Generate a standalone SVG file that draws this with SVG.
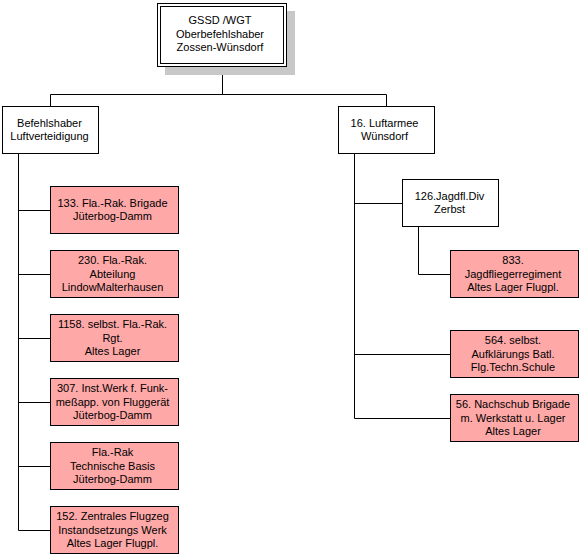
<svg xmlns="http://www.w3.org/2000/svg" width="579" height="555" viewBox="0 0 579 555">
<style>
.box{fill:#fff;stroke:#000;stroke-width:1}
.pink{fill:#FFA8A8;stroke:#000;stroke-width:1}
.ln{stroke:#000;stroke-width:1;fill:none}
text{font-family:"Liberation Sans",Arial,sans-serif;font-size:11px;fill:#000;text-anchor:middle}
</style>
<rect width="579" height="555" fill="#fff"/>
<g id="connectors" class="ln">
<path d="M222.5 67V94.5M50.5 94.5H386.5M50.5 94.5V106.5M386.5 94.5V106.5"/>
<path d="M18.5 153.5V530.5M18.5 210.5H50.5M18.5 274.5H50.5M18.5 338.5H50.5M18.5 402.5H50.5M18.5 466.5H50.5M18.5 530.5H50.5"/>
<path d="M354.5 153.5V418.5M354.5 203.5H402.5M354.5 354.5H450.5M354.5 418.5H450.5"/>
<path d="M418.5 226.5V274.5H450.5"/>
</g>
<g id="gssd">
<rect x="165" y="11" width="130" height="64" fill="#C8C8C8"/>
<rect x="157.5" y="3.5" width="129" height="63" class="box"/>
<rect x="160.5" y="6.5" width="123" height="57" class="box"/>
<text x="220" y="24">GSSD /WGT</text>
<text x="220" y="37.5">Oberbefehlshaber</text>
<text x="220" y="51">Zossen-Wünsdorf</text>
</g>
<g id="befehlshaber">
<rect x="2.5" y="106.5" width="96" height="47" class="box"/>
<text x="49.5" y="126.5">Befehlshaber</text>
<text x="49.5" y="140">Luftverteidigung</text>
</g>
<g id="luftarmee">
<rect x="338.5" y="106.5" width="96" height="47" class="box"/>
<text x="384.5" y="126.5">16. Luftarmee</text>
<text x="384.5" y="140">Wünsdorf</text>
</g>
<g id="jagdfl">
<rect x="402.5" y="179.5" width="96" height="47" class="box"/>
<text x="449.5" y="199.5">126.Jagdfl.Div</text>
<text x="449.5" y="213">Zerbst</text>
</g>
<g id="brig133">
<rect x="50.5" y="186.5" width="128" height="47" class="pink"/>
<text x="112.5" y="206.7">133. Fla.-Rak. Brigade</text>
<text x="112.5" y="220">Jüterbog-Damm</text>
</g>
<g id="abt230">
<rect x="50.5" y="250.5" width="128" height="47" class="pink"/>
<text x="112.5" y="264.2">230. Fla.-Rak.</text>
<text x="112.5" y="277.5">Abteilung</text>
<text x="112.5" y="290.8">LindowMalterhausen</text>
</g>
<g id="rgt1158">
<rect x="50.5" y="314.5" width="128" height="47" class="pink"/>
<text x="112.5" y="328.2">1158. selbst. Fla.-Rak.</text>
<text x="112.5" y="341.5">Rgt.</text>
<text x="112.5" y="354.8">Altes Lager</text>
</g>
<g id="werk307">
<rect x="50.5" y="378.5" width="128" height="47" class="pink"/>
<text x="112.5" y="392.2">307. Inst.Werk f. Funk-</text>
<text x="112.5" y="405.5">meßapp. von Fluggerät</text>
<text x="112.5" y="418.8">Jüterbog-Damm</text>
</g>
<g id="techbasis">
<rect x="50.5" y="442.5" width="128" height="47" class="pink"/>
<text x="112.5" y="456.2">Fla.-Rak</text>
<text x="112.5" y="469.5">Technische Basis</text>
<text x="112.5" y="482.8">Jüterbog-Damm</text>
</g>
<g id="werk152">
<rect x="50.5" y="506.5" width="128" height="47" class="pink"/>
<text x="112.5" y="520.2">152. Zentrales Flugzeg</text>
<text x="112.5" y="533.5">Instandsetzungs Werk</text>
<text x="112.5" y="546.8">Altes Lager Flugpl.</text>
</g>
<g id="jfr833">
<rect x="450.5" y="250.5" width="128" height="47" class="pink"/>
<text x="513" y="264.2">833.</text>
<text x="513" y="277.5">Jagdfliegerregiment</text>
<text x="513" y="290.8">Altes Lager Flugpl.</text>
</g>
<g id="batl564">
<rect x="450.5" y="330.5" width="128" height="47" class="pink"/>
<text x="513" y="344.2">564. selbst.</text>
<text x="513" y="357.5">Aufklärungs Batl.</text>
<text x="513" y="370.8">Flg.Techn.Schule</text>
</g>
<g id="brig56">
<rect x="450.5" y="394.5" width="128" height="47" class="pink"/>
<text x="513" y="408.2">56. Nachschub Brigade</text>
<text x="513" y="421.5">m. Werkstatt u. Lager</text>
<text x="513" y="434.8">Altes Lager</text>
</g>
</svg>
